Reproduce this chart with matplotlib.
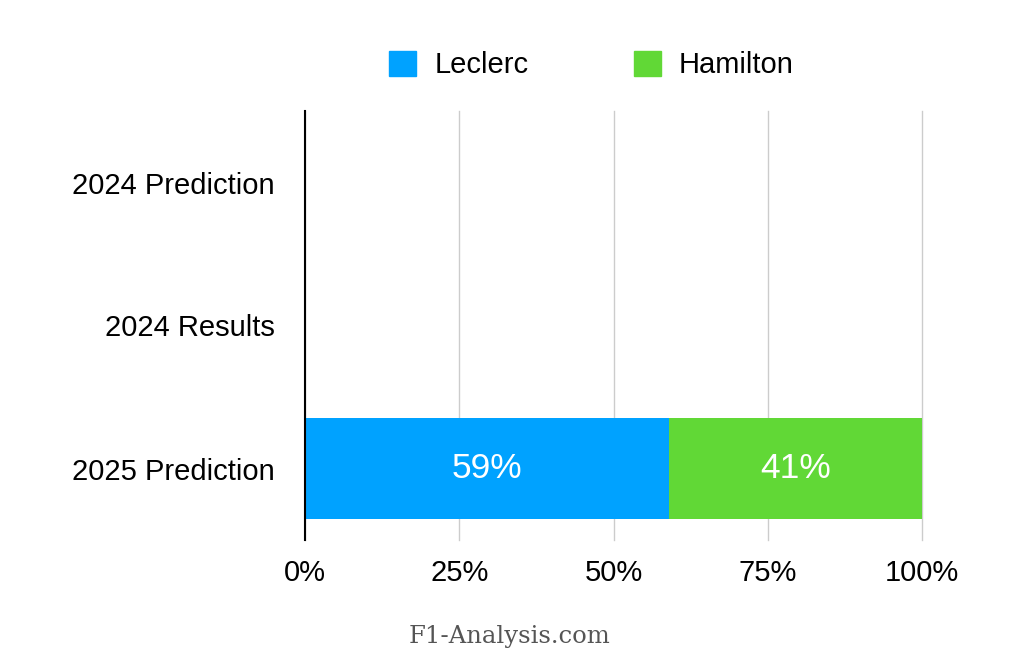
import numpy as np
import matplotlib
matplotlib.use("Agg")
import matplotlib.pyplot as plt
from matplotlib.patches import Patch

# data (top to bottom in the picture)
categories = ["2024 Prediction", "2024 Results", "2025 Prediction"]
leclerc = [0, 0, 59]
hamilton = [0, 0, 41]
xticks = [0, 25, 50, 75, 100]

blue = "#00A2FF"
green = "#61D836"

plt.rcParams['font.family'] = ['Liberation Sans', 'DejaVu Sans']

fig = plt.figure(figsize=(10.24, 6.67), dpi=100)
ax = fig.add_axes([305 / 1024, 1 - 540 / 667, 617 / 1024, 429 / 667])

# bottom category first on the y axis
cats = categories[::-1]
lec = np.array(leclerc[::-1], dtype=float)
ham = np.array(hamilton[::-1], dtype=float)
y = np.arange(len(cats))

ax.barh(y, lec, height=0.7, color=blue, zorder=3)
ax.barh(y, ham, left=lec, height=0.7, color=green, zorder=3)

for i in range(len(cats)):
    if lec[i] > 0:
        ax.text(lec[i] / 2, y[i], f"{lec[i]:.0f}%", color="white",
                ha="center", va="center", fontsize=25.5, zorder=4)
    if ham[i] > 0:
        ax.text(lec[i] + ham[i] / 2, y[i], f"{ham[i]:.0f}%", color="white",
                ha="center", va="center", fontsize=25.5, zorder=4)

ax.set_xlim(0, 100)
ax.set_ylim(-0.5, len(cats) - 0.5)
ax.set_yticks(y)
ax.set_yticklabels(cats)
ax.set_xticks(xticks)
ax.set_xticklabels([f"{t}%" for t in xticks])
ax.tick_params(axis="both", length=0, labelsize=21)
ax.tick_params(axis="x", pad=14)
ax.tick_params(axis="y", pad=22)

ax.grid(axis="x", color="#cccccc", linewidth=1, zorder=0)
for gl in ax.get_xgridlines():
    gl.set_clip_on(False)
for s in ["top", "right", "bottom"]:
    ax.spines[s].set_visible(False)
ax.spines["left"].set_color("black")
ax.spines["left"].set_linewidth(1.5)
ax.spines["left"].set_zorder(5)

handles = [Patch(color=blue, label="Leclerc"), Patch(color=green, label="Hamilton")]
fig.legend(handles=handles, loc="center", bbox_to_anchor=(591.5 / 1024, 1 - 65 / 667),
           ncol=2, frameon=False, fontsize=21, handlelength=0.93, handleheight=0.93,
           handletextpad=0.62, columnspacing=3.6)

fig.text(510 / 1024, 1 - 637 / 667, "F1-Analysis.com", ha="center", va="center",
         fontsize=17.5, color="#555555", family="DejaVu Serif")

fig.savefig("out.png", dpi=100)
